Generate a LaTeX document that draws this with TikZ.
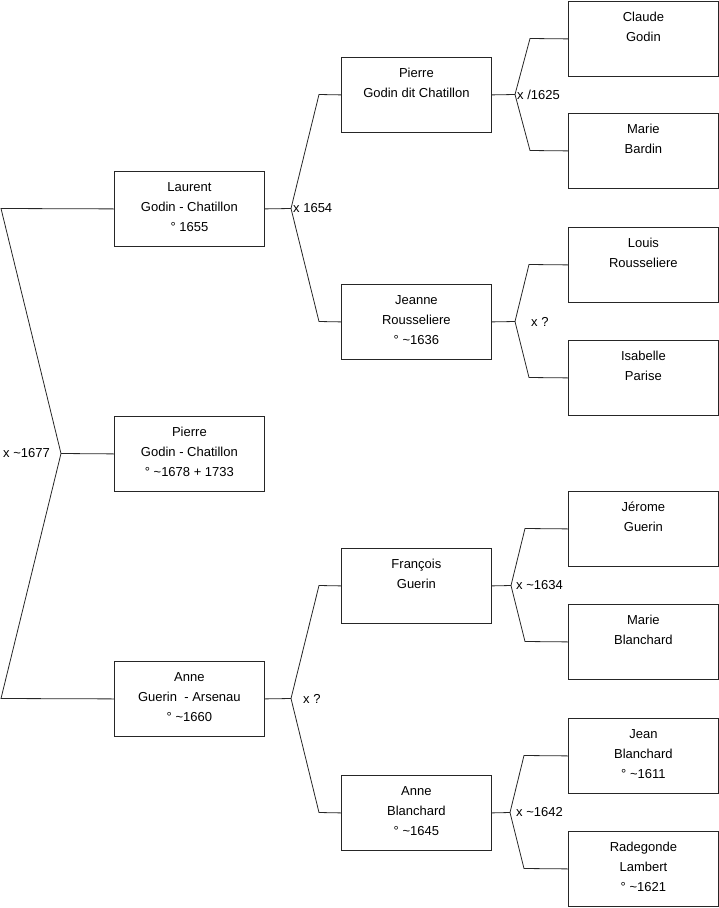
\documentclass[tikz,border=0pt]{standalone}
\usepackage{fontspec}
\setmainfont{Liberation Sans}
\usepackage{tikz}
\usetikzlibrary{positioning}
\definecolor{inkx}{HTML}{262626}
\tikzset{
  person/.style={draw=inkx,line width=0.8pt,anchor=north west,minimum width=150pt,minimum height=75pt,inner sep=0pt,align=center,font=\fontsize{13}{20}\selectfont,execute at end node={\rule[-4pt]{0pt}{4pt}}},
  link/.style={draw=inkx,line width=0.8pt},
  wed/.style={anchor=west,inner sep=0pt,font=\fontsize{13}{20}\selectfont}
}

\begin{document}
\begin{tikzpicture}[x=1pt,y=-1pt]
\useasboundingbox (0,0) rectangle (719,908);
% first generation
\node[person] (laurent) at (114,171) {Laurent\\Godin - Chatillon\\° 1655};
\node[person] (pierre) at (114,416) {Pierre\\Godin - Chatillon\\° \textasciitilde1678 + 1733};
\node[person] (anne) at (114,661) {Anne\\Guerin\ \ - Arsenau\\° \textasciitilde1660};
% second generation
\node[person] (pierreg) at (341,57) {Pierre\\Godin dit Chatillon\\\mbox{}};
\node[person] (jeanne) at (341,284) {Jeanne\\Rousseliere\\° \textasciitilde1636};
\node[person] (francois) at (341,548) {François\\Guerin\\\mbox{}};
\node[person] (anneb) at (341,775) {Anne\\Blanchard\\° \textasciitilde1645};
% third generation
\node[person] (claude) at (568,1) {Claude\\Godin\\\mbox{}};
\node[person] (marie) at (568,113) {Marie\\Bardin\\\mbox{}};
\node[person] (louis) at (568,227) {Louis\\Rousseliere\\\mbox{}};
\node[person] (isabelle) at (568,340) {Isabelle\\Parise\\\mbox{}};
\node[person] (jerome) at (568,491) {Jérome\\Guerin\\\mbox{}};
\node[person] (marieb) at (568,604) {Marie\\Blanchard\\\mbox{}};
\node[person] (jean) at (568,718) {Jean\\Blanchard\\° \textasciitilde1611};
\node[person] (radegonde) at (568,831) {Radegonde\\Lambert\\° \textasciitilde1621};
% forks
\coordinate (a0) at (1,208.5);
\coordinate (v0) at (61,453.5);
\coordinate (b0) at (1,698.5);
\draw[link] (laurent.west) -- (a0) -- (v0) -- (b0) -- (anne.west);
\draw[link] (v0) -- (pierre.west);
\node[wed] (m0) at (3,453.5) {x \textasciitilde1677};

\coordinate (v1) at (291,208.5);
\coordinate (a1) at (319,94.5);
\coordinate (b1) at (319,321.5);
\draw[link] (laurent.east) -- (v1);
\draw[link] (pierreg.west) -- (a1) -- (v1) -- (b1) -- (jeanne.west);
\node[wed] (m1) at (293,208.5) {x 1654};

\coordinate (v2) at (291,698.5);
\coordinate (a2) at (319,585.5);
\coordinate (b2) at (319,812.5);
\draw[link] (anne.east) -- (v2);
\draw[link] (francois.west) -- (a2) -- (v2) -- (b2) -- (anneb.west);
\node[wed] (m2) at (303,698.5) {x ?};

\coordinate (v3) at (515,94.5);
\coordinate (a3) at (530,38.5);
\coordinate (b3) at (530,150.5);
\draw[link] (pierreg.east) -- (v3);
\draw[link] (claude.west) -- (a3) -- (v3) -- (b3) -- (marie.west);
\node[wed] (m3) at (517,94.5) {x /1625};

\coordinate (v4) at (515,321.5);
\coordinate (a4) at (529,264.5);
\coordinate (b4) at (529,377.5);
\draw[link] (jeanne.east) -- (v4);
\draw[link] (louis.west) -- (a4) -- (v4) -- (b4) -- (isabelle.west);
\node[wed] (m4) at (531,321.5) {x ?};

\coordinate (v5) at (511,585.5);
\coordinate (a5) at (525,528.5);
\coordinate (b5) at (525,641.5);
\draw[link] (francois.east) -- (v5);
\draw[link] (jerome.west) -- (a5) -- (v5) -- (b5) -- (marieb.west);
\node[wed] (m5) at (516,585.5) {x \textasciitilde1634};

\coordinate (v6) at (510,812.5);
\coordinate (a6) at (524,755.5);
\coordinate (b6) at (524,868.5);
\draw[link] (anneb.east) -- (v6);
\draw[link] (jean.west) -- (a6) -- (v6) -- (b6) -- (radegonde.west);
\node[wed] (m6) at (516,812.5) {x \textasciitilde1642};
\end{tikzpicture}
\end{document}
